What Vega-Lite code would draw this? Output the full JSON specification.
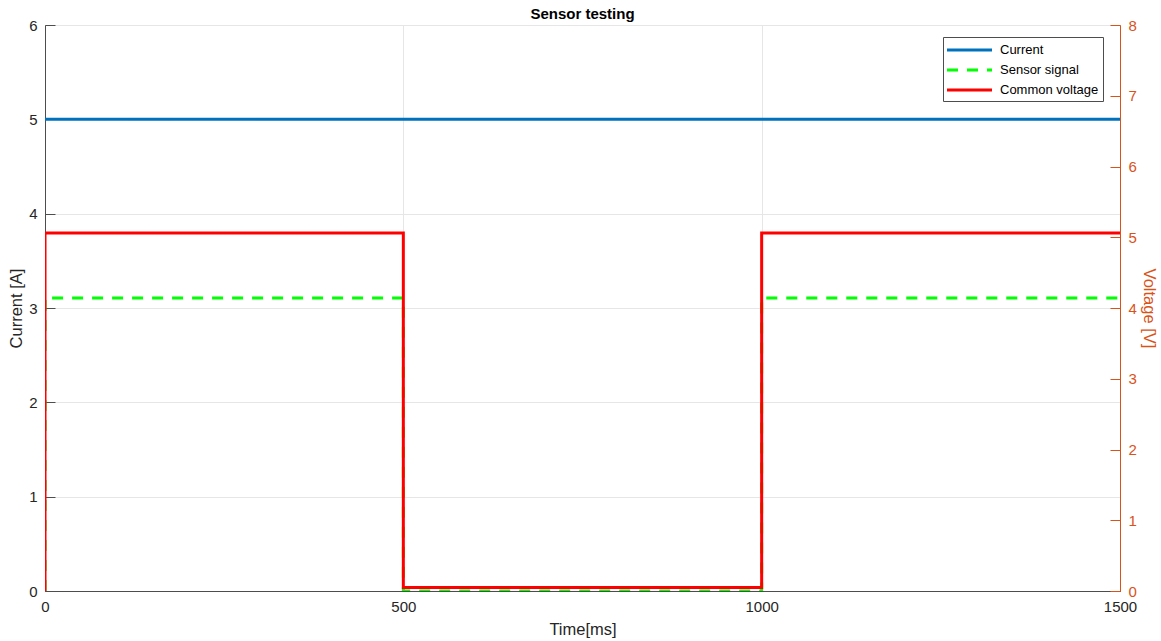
{
  "$schema": "https://vega.github.io/schema/vega-lite/v6.json",
  "width": 1075,
  "height": 566,
  "autosize": "none",
  "padding": {"left": 45, "top": 25, "right": 41, "bottom": 50},
  "background": "white",
  "title": {"text": "Sensor testing", "font": "Liberation Sans", "fontSize": 15, "fontWeight": "bold", "color": "#000000", "offset": -4},
  "config": {
    "view": {"stroke": "#4d4d4d", "strokeWidth": 1},
    "axis": {"labelFont": "Liberation Sans", "titleFont": "Liberation Sans", "labelFontSize": 15, "titleFontSize": 16.5, "titleFontWeight": "normal", "gridColor": "#e6e6e6", "gridWidth": 1},
    "legend": {"orient": "none", "legendX": 898, "legendY": 12, "fillColor": "white", "strokeColor": "#4d4d4d", "padding": 4, "symbolType": "M-3,0H3", "symbolSize": 225, "symbolStrokeWidth": 3, "labelFont": "Liberation Sans", "labelFontSize": 13, "labelColor": "#000000", "rowPadding": 4, "labelOffset": 35}
  },
  "data": {"values": [
    {"series": "Current", "i": 0, "t": 0, "v": 5},
    {"series": "Current", "i": 1, "t": 1500, "v": 5},
    {"series": "Sensor signal", "i": 0, "t": 0, "v": 0},
    {"series": "Sensor signal", "i": 1, "t": 0, "v": 4.14},
    {"series": "Sensor signal", "i": 2, "t": 500, "v": 4.14},
    {"series": "Sensor signal", "i": 3, "t": 500, "v": 0},
    {"series": "Sensor signal", "i": 4, "t": 1000, "v": 0},
    {"series": "Sensor signal", "i": 5, "t": 1000, "v": 4.14},
    {"series": "Sensor signal", "i": 6, "t": 1500, "v": 4.14},
    {"series": "Common voltage", "i": 0, "t": 0, "v": 0},
    {"series": "Common voltage", "i": 1, "t": 0, "v": 5.06},
    {"series": "Common voltage", "i": 2, "t": 500, "v": 5.06},
    {"series": "Common voltage", "i": 3, "t": 500, "v": 0.05},
    {"series": "Common voltage", "i": 4, "t": 1000, "v": 0.05},
    {"series": "Common voltage", "i": 5, "t": 1000, "v": 5.06},
    {"series": "Common voltage", "i": 6, "t": 1500, "v": 5.06}
  ]},
  "encoding": {
    "x": {"field": "t", "type": "quantitative", "title": "Time[ms]",
      "scale": {"domain": [0, 1500], "nice": false},
      "axis": {"values": [0, 500, 1000, 1500], "format": "d", "tickSize": -10, "labelPadding": 18, "tickColor": "#4d4d4d", "domainColor": "#4d4d4d", "labelColor": "#262626", "titleColor": "#262626", "titlePadding": 7, "labelFlush": false}
    },
    "color": {"field": "series", "type": "nominal", "title": null,
      "scale": {"domain": ["Current", "Sensor signal", "Common voltage"], "range": ["#0072BD", "#00FF00", "#FF0000"]},
      "legend": {"encode": {"symbols": {"update": {"x": {"value": 22.5}}}}}
    },
    "strokeDash": {"field": "series", "type": "nominal", "title": null,
      "scale": {"domain": ["Current", "Sensor signal", "Common voltage"], "range": [[1, 0], [11, 9], [1, 0]]},
      "legend": {"encode": {"symbols": {"update": {"x": {"value": 22.5}}}}}
    },
    "order": {"field": "i", "type": "quantitative"}
  },
  "layer": [
    {
      "transform": [{"filter": "datum.series === 'Current'"}],
      "mark": {"type": "line", "strokeWidth": 3, "clip": true},
      "encoding": {
        "y": {"field": "v", "type": "quantitative", "title": "Current [A]",
          "scale": {"domain": [0, 6], "nice": false},
          "axis": {"orient": "left", "values": [0, 1, 2, 3, 4, 5, 6], "tickSize": -10, "labelPadding": 18, "tickColor": "#4d4d4d", "domainColor": "#4d4d4d", "labelColor": "#262626", "titleColor": "#262626", "titlePadding": 4, "grid": true}
        }
      }
    },
    {
      "transform": [{"filter": "datum.series !== 'Current'"}],
      "mark": {"type": "line", "strokeWidth": 3, "clip": true},
      "encoding": {
        "y": {"field": "v", "type": "quantitative", "title": "Voltage [V]",
          "scale": {"domain": [0, 8], "nice": false},
          "axis": {"orient": "right", "values": [0, 1, 2, 3, 4, 5, 6, 7, 8], "tickSize": -10, "labelPadding": 18, "tickColor": "#D95319", "domainColor": "#D95319", "labelColor": "#D95319", "titleColor": "#D95319", "titlePadding": 4, "grid": false}
        }
      }
    }
  ],
  "resolve": {"scale": {"y": "independent"}}
}
